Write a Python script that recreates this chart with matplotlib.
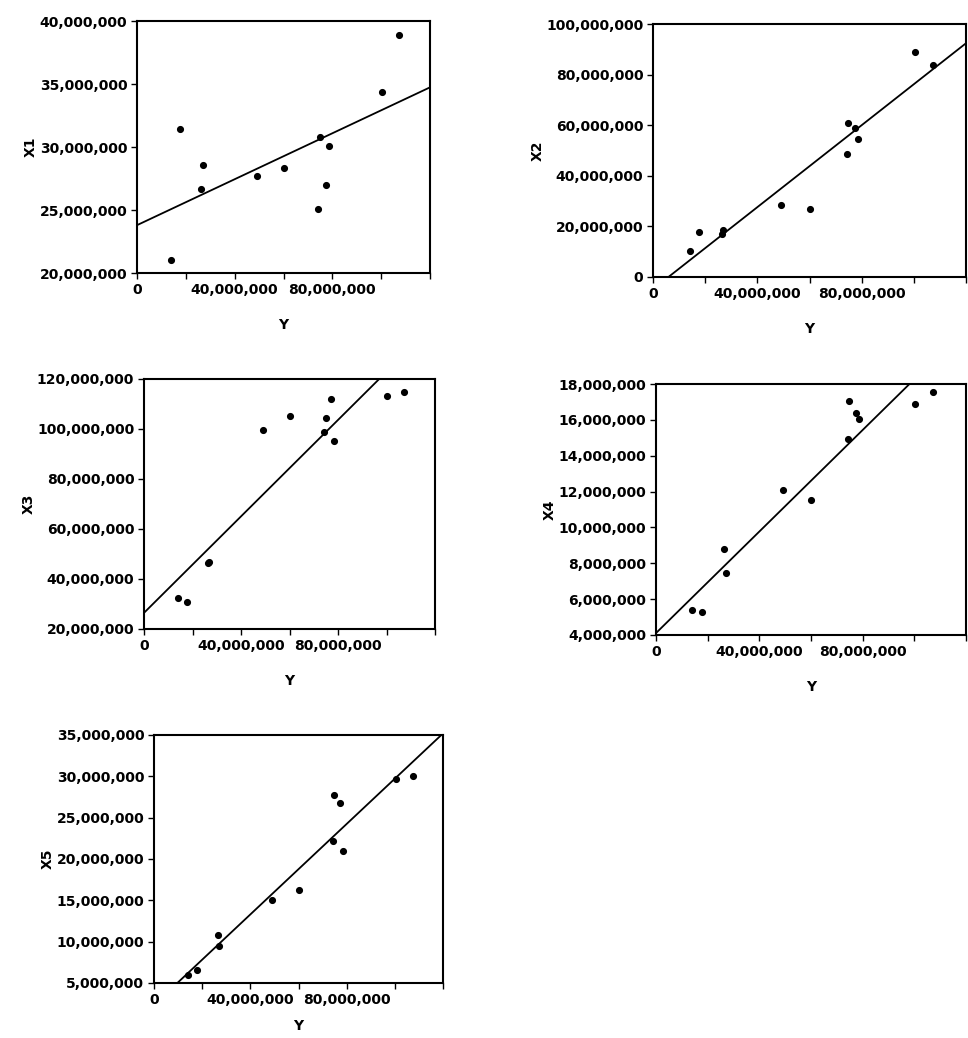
import numpy as np
import matplotlib
matplotlib.use("Agg")
import matplotlib.pyplot as plt
from matplotlib.ticker import FuncFormatter, FixedLocator

plt.rcParams["font.family"] = ["DejaVu Sans"]
plt.rcParams["font.weight"] = "bold"

# Y values (millions), shared by all panels
y_vals = np.array([14.1, 17.8, 26.4, 27.0, 49.0, 60.0, 74.3, 74.9, 77.3, 78.5, 100.3, 107.4]) * 1e6

# regressors (millions), same order as y_vals
x1 = np.array([21.0, 31.4, 26.7, 28.6, 27.7, 28.3, 25.1, 30.8, 27.0, 30.1, 34.4, 38.9]) * 1e6
x2 = np.array([10.3, 17.8, 16.8, 18.7, 28.6, 27.0, 48.8, 60.9, 58.7, 54.6, 89.1, 83.8]) * 1e6
x3 = np.array([32.4, 30.7, 46.5, 47.0, 99.5, 105.2, 98.7, 104.3, 112.1, 95.1, 113.1, 114.8]) * 1e6
x4 = np.array([5.37, 5.26, 8.82, 7.47, 12.09, 11.51, 14.93, 17.04, 16.37, 16.06, 16.91, 17.56]) * 1e6
x5 = np.array([6.0, 6.6, 10.76, 9.5, 15.0, 16.3, 22.2, 27.7, 26.8, 21.0, 29.7, 30.1]) * 1e6

names = ["X1", "X2", "X3", "X4", "X5"]
series = [x1, x2, x3, x4, x5]
y_ticks = [
    [20e6, 25e6, 30e6, 35e6, 40e6],
    [0, 20e6, 40e6, 60e6, 80e6, 100e6],
    [20e6, 40e6, 60e6, 80e6, 100e6, 120e6],
    [4e6, 6e6, 8e6, 10e6, 12e6, 14e6, 16e6, 18e6],
    [5e6, 10e6, 15e6, 20e6, 25e6, 30e6, 35e6],
]
x_major = [0, 40e6, 80e6]
x_minor = [20e6, 60e6, 100e6, 120e6]

W, H = 968, 1038
# axes boxes in pixels: left, top, right, bottom
boxes = [
    (137, 21, 430, 273),
    (653, 24, 966, 277),
    (144, 379, 435, 629),
    (656, 384, 966, 635),
    (154, 735, 443, 983),
]
xlabel_pads = [15, 15, 15, 15, 9]

fig = plt.figure(figsize=(W / 100, H / 100), dpi=100)
fmt = FuncFormatter(lambda v, p: "{:,.0f}".format(v))

for name, xv, yt, (l, t, r, b), lp in zip(names, series, y_ticks, boxes, xlabel_pads):
    ax = fig.add_axes([l / W, 1 - b / H, (r - l) / W, (b - t) / H])
    ax.scatter(y_vals, xv, s=17, color="black", zorder=3)
    slope, icpt = np.polyfit(y_vals, xv, 1)
    xx = np.array([0, 120e6])
    ax.plot(xx, icpt + slope * xx, color="black", lw=1.3)
    ax.set_xlim(0, 120e6)
    ax.set_ylim(yt[0], yt[-1])
    ax.yaxis.set_major_locator(FixedLocator(yt))
    ax.xaxis.set_major_locator(FixedLocator(x_major))
    ax.xaxis.set_minor_locator(FixedLocator(x_minor))
    ax.xaxis.set_major_formatter(fmt)
    ax.yaxis.set_major_formatter(fmt)
    ax.tick_params(axis="both", which="both", direction="out", length=4, width=1,
                   labelsize=10, pad=3)
    for sp in ax.spines.values():
        sp.set_linewidth(1.5)
    ax.set_xlabel("Y", fontsize=10, fontweight="bold", labelpad=lp)
    ax.set_ylabel(name, fontsize=10, fontweight="bold", labelpad=1)

fig.savefig("out.png", dpi=100)
